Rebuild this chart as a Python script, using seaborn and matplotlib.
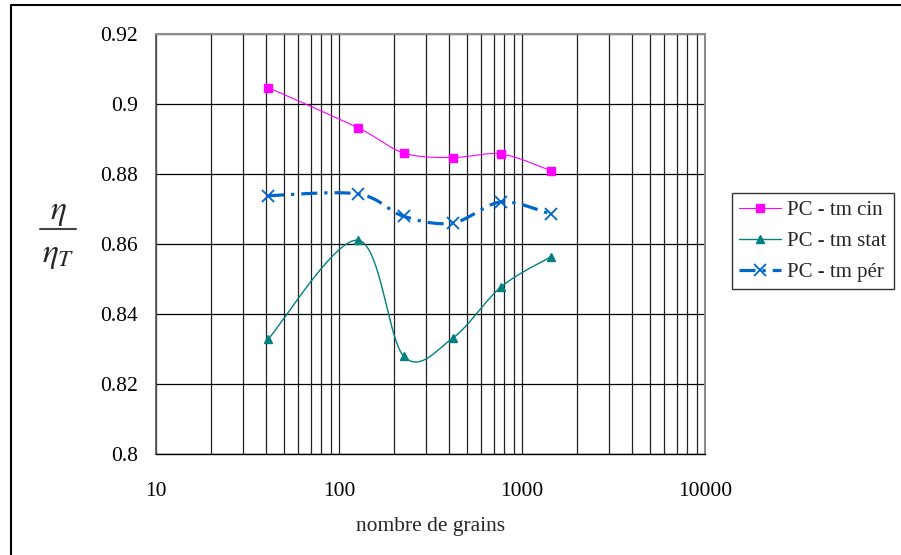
import numpy as np
import pandas as pd
import matplotlib
matplotlib.use("Agg")
import matplotlib.pyplot as plt
import seaborn as sns
from matplotlib.lines import Line2D
from matplotlib.ticker import LogLocator, FixedLocator, FuncFormatter, NullFormatter

# ---- data ----
grains = [41, 127, 226, 418, 771, 1445]
tm_cin = [0.9047, 0.8932, 0.8860, 0.8847, 0.8857, 0.8809]
tm_stat = [0.8328, 0.8611, 0.8279, 0.8331, 0.8478, 0.8564]
tm_per = [0.8738, 0.8743, 0.8679, 0.8660, 0.8720, 0.8685]
labels = ["PC - tm cin", "PC - tm stat", "PC - tm pér"]
x_ticks = [10, 100, 1000, 10000]
y_ticks = [0.8, 0.82, 0.84, 0.86, 0.88, 0.9, 0.92]

sns.set_style("white")
plt.rcParams["font.family"] = ["Liberation Serif", "DejaVu Serif"]
plt.rcParams["mathtext.fontset"] = "stix"


def smooth(xs, ys, n=40):
    """Excel-like smoothed line (uniform Catmull-Rom in log-x space)."""
    lx = np.log10(np.asarray(xs, float))
    y = np.asarray(ys, float)
    P = np.column_stack([lx, y])
    P = np.vstack([P[0], P, P[-1]])
    out = []
    for i in range(1, len(P) - 2):
        p0, p1, p2, p3 = P[i - 1], P[i], P[i + 1], P[i + 2]
        t = np.linspace(0, 1, n)[:, None]
        seg = 0.5 * ((2 * p1) + (-p0 + p2) * t + (2 * p0 - 5 * p1 + 4 * p2 - p3) * t ** 2
                     + (-p0 + 3 * p1 - 3 * p2 + p3) * t ** 3)
        out.append(seg if i == 1 else seg[1:])
    out = np.vstack(out)
    return pd.DataFrame({"x": 10 ** out[:, 0], "y": out[:, 1]})


W, H = 901, 555
fig = plt.figure(figsize=(W / 100, H / 100), dpi=100)
ax = fig.add_axes([156 / W, 1 - 454 / H, 549 / W, 420 / H])
ax.set_xscale("log")
ax.set_xlim(10, 10000)
ax.set_ylim(0.8, 0.92)

series = [
    (tm_cin, "#FF00FF", "-", 0.8, "s", 5.5, 1.0),
    (tm_stat, "#008080", "-", 1.0, "^", 6.0, 1.0),
    (tm_per, "#0066CC", (0, (5.0, 2.2, 1.0, 2.2)), 2.3, "x", 8.0, 1.3),
]
handles = []
for (vals, col, ls, lw, mk, ms, mew), lab in zip(series, labels):
    df = smooth(grains, vals)
    sns.lineplot(data=df, x="x", y="y", ax=ax, sort=False, estimator=None,
                 color=col, linewidth=lw, linestyle=ls, zorder=3)
    ax.plot(grains, vals, linestyle="none", marker=mk, markersize=ms,
            color=col, markeredgewidth=mew, zorder=4)
    handles.append(Line2D([], [], color=col, linewidth=lw, linestyle=ls,
                          marker=mk, markersize=ms, markeredgewidth=mew))

# grid
ax.xaxis.set_major_locator(FixedLocator(x_ticks))
ax.xaxis.set_minor_locator(LogLocator(base=10, subs=np.arange(2, 10)))
ax.xaxis.set_minor_formatter(NullFormatter())
ax.xaxis.set_major_formatter(FuncFormatter(lambda v, p: f"{int(v)}"))
ax.yaxis.set_major_locator(FixedLocator(y_ticks))
ax.yaxis.set_major_formatter(FuncFormatter(lambda v, p: f"{v:g}"))
ax.grid(True, which="both", axis="x", color="#222222", linewidth=0.9)
ax.grid(True, which="major", axis="y", color="black", linewidth=0.9)
ax.set_axisbelow(True)

ax.tick_params(axis="both", which="major", direction="out", length=5, width=0.9,
               color="black", labelsize=15.5, labelcolor="black")
ax.tick_params(axis="x", which="major", pad=15)
ax.tick_params(axis="y", which="major", pad=8)
ax.tick_params(axis="x", which="minor", length=0)

for side in ["top", "right"]:
    ax.spines[side].set_color("#8c8c8c")
    ax.spines[side].set_linewidth(1.5)
ax.spines["left"].set_color("#555555")
ax.spines["left"].set_linewidth(1.2)
ax.spines["bottom"].set_color("black")
ax.spines["bottom"].set_linewidth(1.0)

ax.set_xlabel("nombre de grains", fontsize=15.5, labelpad=12)
ax.set_ylabel("")

# y-axis label as a stacked fraction eta / eta_T
fig.text(58 / W, 1 - 213 / H, r"$\eta$", fontsize=24, ha="center", va="center")
fig.add_artist(Line2D([40 / W, 76 / W], [1 - 229 / H, 1 - 229 / H],
                      transform=fig.transFigure, color="#444444", linewidth=1.5))
fig.text(58 / W, 1 - 256 / H, r"$\eta_T$", fontsize=24, ha="center", va="center")

leg = fig.legend(handles, labels, loc="upper left",
                 bbox_to_anchor=(732 / W, 1 - 193 / H),
                 borderaxespad=0, fontsize=15, frameon=True, fancybox=False,
                 handlelength=2.0, handletextpad=0.3, labelspacing=0.55,
                 borderpad=0.35)
leg.get_frame().set_edgecolor("black")
leg.get_frame().set_linewidth(1.0)

# outer chart border (left and top visible)
fig.add_artist(Line2D([11 / W, 11 / W, 1.0], [0.0, 1 - 5 / H, 1 - 5 / H],
                      transform=fig.transFigure, color="black", linewidth=1.5))

fig.savefig("out.png", dpi=100)
